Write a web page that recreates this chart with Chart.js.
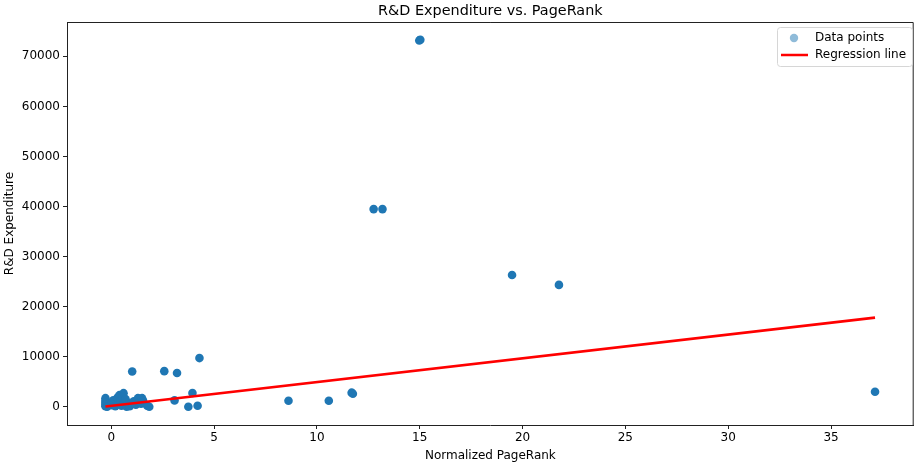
<!DOCTYPE html>
<html>
<head>
<meta charset="utf-8">
<script src="https://cdn.jsdelivr.net/npm/chart.js@4"></script>
<style>
  html, body { margin: 0; padding: 0; background: #fff; }
  #wrap { width: 918px; height: 466px; }
</style>
</head>
<body>
<div id="wrap"><canvas id="rdChart" width="918" height="466"></canvas></div>
<script>
// values
const pageRank = [
  -0.28, -0.28, -0.28, -0.28, -0.28, -0.2, 0.0, 0.05, 0.1, 0.15,
  0.2, 0.3, 0.35, 0.4, 0.45, 0.5, 0.55, 0.6, 0.65, 0.7,
  0.75, 0.8, 0.9, 1.0, 1.1, 1.2, 1.3, 1.35, 1.45, 1.5,
  1.55, 1.75, 1.85, 1.02, 2.58, 3.2, 4.29, 3.08, 3.95, 3.75,
  4.2, 8.62, 10.58, 11.69, 11.75, 12.76, 13.19, 14.98, 15.03, 19.49,
  21.77, 37.14
];
const rdExpenditure = [
  1700, 1200, 800, 400, 100, 0, 300, 900, 1300, 500,
  100, 1800, 600, 2300, 1200, 200, 1900, 2700, 800, 1500,
  0, 400, 100, 700, 1100, 400, 1700, 900, 600, 1700,
  1200, 200, 0, 7040, 7100, 6720, 9710, 1260, 2730, 0,
  200, 1200, 1200, 2800, 2600, 39480, 39480, 73180, 73300, 26320,
  24330, 2990
];
const fitX = [-0.28, 37.14];
const fitY = [30, 17780];
const xTicks = [0, 5, 10, 15, 20, 25, 30, 35];
const yTicks = [0, 10000, 20000, 30000, 40000, 50000, 60000, 70000];

const FONT = 'DejaVu Sans';
const DOT = 'rgb(31,119,180)';
const DOT_LEGEND = 'rgba(31,119,180,0.5)';

const frameAndText = {
  id: 'frameAndText',
  afterDraw(chart) {
    const { ctx, chartArea: a } = chart;
    ctx.save();
    // top / right spines
    ctx.strokeStyle = '#222';
    ctx.lineWidth = 1;
    ctx.beginPath();
    ctx.moveTo(a.left, a.top + 0.5);
    ctx.lineTo(a.right - 0.5, a.top + 0.5);
    ctx.lineTo(a.right - 0.5, a.bottom);
    ctx.stroke();

    // title
    ctx.fillStyle = '#000';
    ctx.font = '14.4px "' + FONT + '"';
    ctx.textAlign = 'center';
    ctx.textBaseline = 'middle';
    ctx.fillText('R&D Expenditure vs. PageRank', (a.left + a.right) / 2, 11);

    // legend
    const bx = 777, by = 27, bw = 135, bh = 39;
    ctx.fillStyle = 'rgba(255,255,255,0.8)';
    ctx.strokeStyle = '#d6d6d6';
    ctx.beginPath();
    ctx.roundRect(bx + 0.5, by + 0.5, bw, bh, 3);
    ctx.fill();
    ctx.stroke();

    ctx.fillStyle = DOT_LEGEND;
    ctx.beginPath();
    ctx.arc(bx + 17, by + 11, 4.2, 0, Math.PI * 2);
    ctx.fill();

    ctx.strokeStyle = 'red';
    ctx.lineWidth = 2.5;
    ctx.beginPath();
    ctx.moveTo(bx + 4, by + 28);
    ctx.lineTo(bx + 31, by + 28);
    ctx.stroke();

    ctx.fillStyle = '#000';
    ctx.font = '12px "' + FONT + '"';
    ctx.textAlign = 'left';
    ctx.fillText(chart.data.datasets[1].label, bx + 38, by + 11);
    ctx.fillText(chart.data.datasets[0].label, bx + 38, by + 28);
    ctx.restore();
  }
};

const ctx = document.getElementById('rdChart').getContext('2d');
new Chart(ctx, {
  data: {
    datasets: [
      {
        type: 'line',
        label: 'Regression line',
        data: fitX.map((x, i) => ({ x: x, y: fitY[i] })),
        borderColor: 'red',
        borderWidth: 2.7,
        pointRadius: 0,
        fill: false,
        order: 0,
      },
      {
        type: 'scatter',
        label: 'Data points',
        data: pageRank.map((x, i) => ({ x: x, y: rdExpenditure[i] })),
        backgroundColor: DOT,
        borderWidth: 0,
        pointRadius: 4.3,
        pointHoverRadius: 4.3,
        order: 1,
      },
    ],
  },
  options: {
    responsive: false,
    animation: false,
    events: [],
    layout: { padding: { top: 22, right: 2, left: 0, bottom: 0 } },
    plugins: {
      legend: { display: false },
      title: { display: false },
      tooltip: { enabled: false },
    },
    scales: {
      x: {
        type: 'linear',
        min: -2.15,
        max: 39.02,
        afterBuildTicks: s => { s.ticks = xTicks.map(v => ({ value: v })); },
        afterFit: s => { s.height = 41; },
        ticks: { color: '#000', font: { family: FONT, size: 12 }, padding: 2, maxRotation: 0 },
        grid: { display: true, drawOnChartArea: false, tickLength: 4, color: '#222' },
        border: { display: true, color: '#222', width: 1 },
        title: {
          display: true,
          text: 'Normalized PageRank',
          color: '#000',
          font: { family: FONT, size: 12 },
          padding: { top: 0, bottom: 3 },
        },
      },
      y: {
        type: 'linear',
        min: -3660,
        max: 76860,
        afterBuildTicks: s => { s.ticks = yTicks.map(v => ({ value: v })); },
        afterFit: s => { s.width = 67; },
        ticks: {
          color: '#000',
          font: { family: FONT, size: 12 },
          padding: 3,
          callback: v => String(v),
        },
        grid: { display: true, drawOnChartArea: false, tickLength: 4, color: '#222' },
        border: { display: true, color: '#222', width: 1 },
        title: {
          display: true,
          text: 'R&D Expenditure',
          color: '#000',
          font: { family: FONT, size: 12 },
          padding: { top: 3, bottom: 0 },
        },
      },
    },
  },
  plugins: [frameAndText],
});
</script>
</body>
</html>
